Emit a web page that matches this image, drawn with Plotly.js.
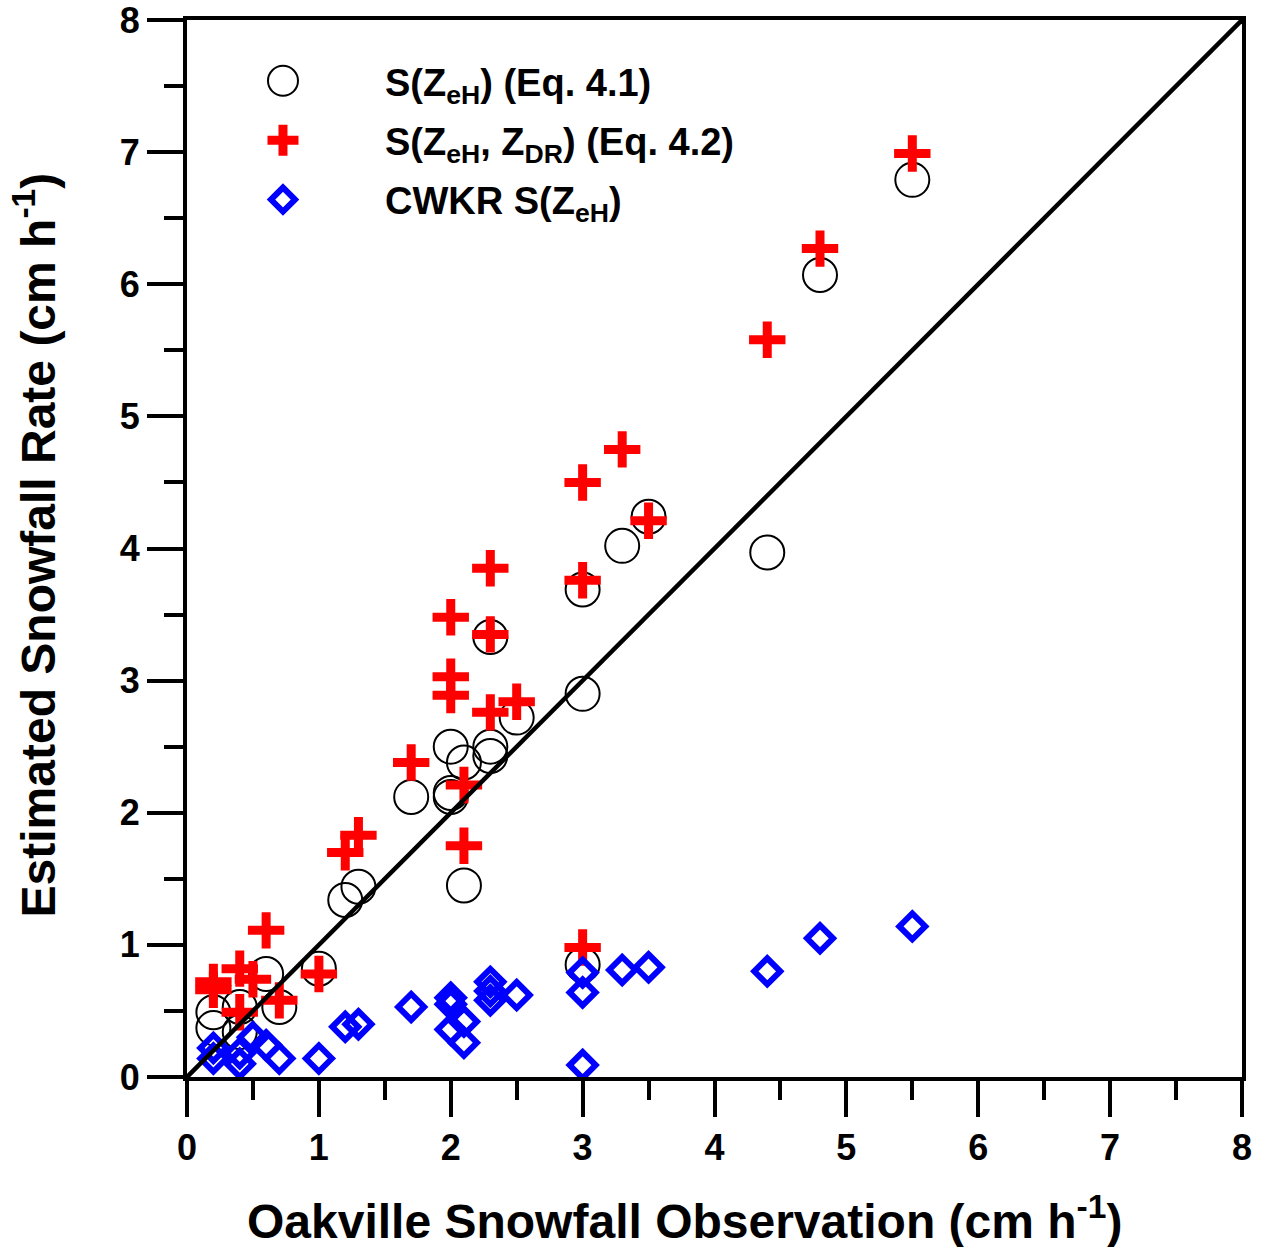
<!DOCTYPE html>
<html>
<head>
<meta charset="utf-8">
<script src="https://cdn.plot.ly/plotly-3.0.1.min.js"></script>
<style>
  html, body { margin: 0; padding: 0; background: #ffffff; }
  #chart { width: 1265px; height: 1247px; }
</style>
</head>
<body>
<div id="chart"></div>
<script>
// Oakville gauge observations vs. radar-estimated snowfall rates (cm h-1)
const eq41Obs = [5.5, 4.8, 4.4, 3.5, 3.3, 3.0, 3.0, 3.0, 2.5, 2.3, 2.3, 2.3, 2.1, 2.1, 2.0, 2.0, 2.0, 1.7, 1.3, 1.2, 1.0, 0.7, 0.6, 0.4, 0.4, 0.2, 0.2];
const eq41Est = [6.79, 6.07, 3.97, 4.24, 4.02, 3.69, 2.90, 0.85, 2.72, 3.33, 2.50, 2.43, 2.38, 1.45, 2.50, 2.15, 2.12, 2.12, 1.44, 1.34, 0.82, 0.53, 0.78, 0.53, 0.34, 0.49, 0.37];

const eq42Obs = [5.5, 4.8, 4.4, 3.5, 3.3, 3.0, 3.0, 3.0, 2.5, 2.3, 2.3, 2.3, 2.1, 2.1, 2.0, 2.0, 2.0, 1.7, 1.3, 1.2, 1.0, 0.7, 0.6, 0.5, 0.4, 0.4, 0.2, 0.2];
const eq42Est = [6.99, 6.27, 5.58, 4.21, 4.75, 4.50, 3.76, 0.98, 2.84, 3.85, 3.35, 2.76, 2.21, 1.75, 3.48, 3.03, 2.89, 2.38, 1.83, 1.70, 0.78, 0.58, 1.11, 0.74, 0.82, 0.49, 0.72, 0.66];

const cwkrObs = [5.5, 4.8, 4.4, 3.5, 3.3, 3.0, 3.0, 3.0, 2.5, 2.3, 2.3, 2.3, 2.1, 2.1, 2.0, 2.0, 2.0, 1.7, 1.3, 1.2, 1.0, 0.7, 0.6, 0.5, 0.4, 0.4, 0.2, 0.2];
const cwkrEst = [1.14, 1.05, 0.80, 0.83, 0.81, 0.79, 0.64, 0.09, 0.62, 0.72, 0.65, 0.58, 0.42, 0.26, 0.60, 0.55, 0.36, 0.53, 0.40, 0.38, 0.14, 0.14, 0.24, 0.30, 0.18, 0.10, 0.22, 0.14];

// 1:1 reference line
const oneToOne = [0, 8];

const seriesNames = [
  'S(Z<sub>eH</sub>) (Eq. 4.1)',
  'S(Z<sub>eH</sub>, Z<sub>DR</sub>) (Eq. 4.2)',
  'CWKR S(Z<sub>eH</sub>)'
];

const xTitle = 'Oakville Snowfall Observation (cm h<sup>-1</sup>)';
const yTitle = 'Estimated Snowfall Rate (cm h<sup>-1</sup>)';

const FONT = 'Liberation Sans, Arial, Helvetica, sans-serif';

const traces = [
  {
    x: eq41Obs, y: eq41Est, type: 'scatter', mode: 'markers',
    name: seriesNames[0], legendgroup: 'a',
    marker: { symbol: 'circle-open', size: 34, color: '#000000', line: { color: '#000000', width: 2 } }
  },
  {
    x: eq42Obs, y: eq42Est, type: 'scatter', mode: 'markers',
    name: seriesNames[1], legendgroup: 'b',
    marker: { symbol: 'cross-thin-open', size: 26, color: '#ff0000', line: { color: '#ff0000', width: 9 } }
  },
  {
    x: cwkrObs, y: cwkrEst, type: 'scatter', mode: 'markers',
    name: seriesNames[2], legendgroup: 'c',
    marker: { symbol: 'diamond-open', size: 20, color: '#0000ff', line: { color: '#0000ff', width: 6 } }
  },
  {
    x: oneToOne, y: oneToOne, type: 'scatter', mode: 'lines',
    showlegend: false, hoverinfo: 'skip',
    line: { color: '#000000', width: 4.5 }
  }
];

const axisCommon = {
  range: [0, 8],
  dtick: 1,
  tick0: 0,
  ticks: 'outside',
  ticklen: 36,
  tickwidth: 4,
  tickcolor: '#000000',
  minor: { dtick: 0.5, ticks: 'outside', ticklen: 19, tickwidth: 4, tickcolor: '#000000' },
  showline: true,
  linewidth: 4,
  linecolor: '#000000',
  mirror: true,
  showgrid: false,
  zeroline: false,
  ticklabeloverflow: 'allow',
  tickfont: { family: FONT, size: 36, color: '#000000', weight: 'bold' },
  fixedrange: true
};

const titleFont = { family: FONT, size: 48, color: '#000000', weight: 'bold' };

const layout = {
  width: 1265,
  height: 1247,
  margin: { l: 187, r: 23, t: 20, b: 170 },
  paper_bgcolor: '#ffffff',
  plot_bgcolor: '#ffffff',
  font: { family: FONT, color: '#000000' },
  xaxis: Object.assign({}, axisCommon),
  yaxis: Object.assign({}, axisCommon),
  annotations: [
    {
      text: xTitle, xref: 'paper', yref: 'paper',
      x: 0.472, y: -0.133, xanchor: 'center', yanchor: 'middle',
      showarrow: false, font: titleFont
    },
    {
      text: yTitle, xref: 'paper', yref: 'paper', textangle: -90,
      x: -0.144, y: 0.503, xanchor: 'center', yanchor: 'middle',
      showarrow: false, font: titleFont
    }
  ],
  legend: {
    x: -0.0057, y: 0.972, xanchor: 'left', yanchor: 'top',
    bgcolor: 'rgba(0,0,0,0)',
    borderwidth: 0,
    itemwidth: 194,
    tracegroupgap: 7,
    traceorder: 'grouped',
    font: { family: FONT, size: 38, color: '#000000', weight: 'bold' }
  },
  showlegend: true
};

// Legend keys are drawn at full marker size (Plotly caps them at 16 px)
const legendKeys = [
  { d: 'M15,0A15,15 0 1,1 0,-15A15,15 0 0,1 15,0Z', stroke: '#000000', width: 2 },
  { d: 'M0,15.5V-15.5M15.5,0H-15.5', stroke: '#ff0000', width: 9 },
  { d: 'M12,0L0,12L-12,0L0,-12Z', stroke: '#0000ff', width: 6 }
];

Plotly.newPlot('chart', traces, layout, { staticPlot: true, displayModeBar: false }).then(function (gd) {
  const items = gd.querySelectorAll('.legend .traces');
  items.forEach(function (item, i) {
    const key = legendKeys[i];
    if (!key) return;
    item.querySelectorAll('path.scatterpts').forEach(function (p) {
      p.setAttribute('d', key.d);
      p.style.stroke = key.stroke;
      p.style.strokeWidth = key.width + 'px';
      p.style.fill = 'none';
    });
  });
});
</script>
</body>
</html>
